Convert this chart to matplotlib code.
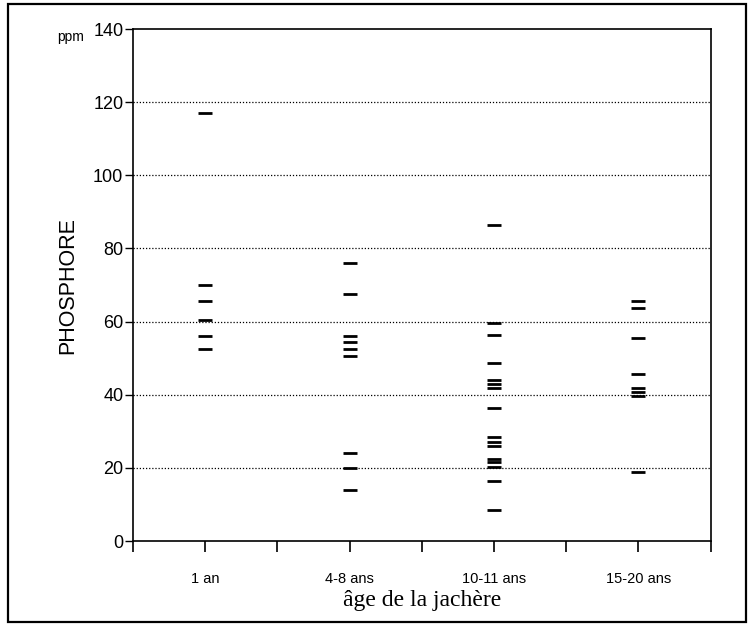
import numpy as np
import matplotlib.pyplot as plt
from matplotlib.patches import Rectangle

# categories and phosphore values (ppm)
categories = ["1 an", "4-8 ans", "10-11 ans", "15-20 ans"]
an1 = [117, 70, 65.5, 60.5, 56, 52.5]
ans4_8 = [76, 67.5, 56, 54.5, 52.5, 50.5, 24, 20, 14]
ans10_11 = [86.5, 59.7, 56.2, 48.8, 44.0, 42.9, 41.8, 36.5, 28.4, 27.2, 26.0,
            22.3, 21.5, 20.3, 16.4, 8.5]
ans15_20 = [65.6, 63.7, 55.6, 45.7, 41.9, 40.7, 39.6, 18.9]
groups = [an1, ans4_8, ans10_11, ans15_20]

fig = plt.figure(figsize=(7.49, 6.24), dpi=100)
ax = fig.add_axes([0.1776, 0.133, 0.771, 0.8205])

#outer frame round the whole figure
fig.patches.append(Rectangle((0.011, 0.004), 0.985, 0.99, transform=fig.transFigure,
                             fill=False, edgecolor="black", linewidth=1.6))

pos = np.arange(len(categories)) + 0.5
for p, vals in zip(pos, groups):
    ax.plot([p] * len(vals), vals, linestyle="none", marker="_",
            markersize=10, markeredgewidth=2, color="black")

ax.set_xlim(0, 4)
ax.set_ylim(0, 140)
ax.set_yticks(np.arange(0, 141, 20))
ax.set_xticks(np.arange(0, 4.01, 0.5))
ax.set_xticklabels(["", categories[0], "", categories[1], "", categories[2], "",
                    categories[3], ""])
ax.tick_params(axis="y", direction="out", length=6, width=1, labelsize=13, pad=1)
ax.tick_params(axis="x", direction="out", length=8, width=1.2, labelsize=10.5, pad=14)

for v in range(20, 140, 20):
    ax.axhline(v, color="black", linestyle=(0, (1, 1.5)), linewidth=0.9, zorder=0)

for s in ax.spines.values():
    s.set_linewidth(1.2)

font = ["Liberation Sans", "DejaVu Sans"]
for t in ax.get_xticklabels() + ax.get_yticklabels():
    t.set_fontfamily(font)

fig.text(0.09, 0.543, "PHOSPHORE", fontsize=15.5, family=font, rotation=90,
         ha="center", va="center")
ax.set_xlabel("âge de la jachère", fontsize=17, family=["Liberation Serif", "DejaVu Serif"],
              labelpad=3)
fig.text(0.094, 0.941, "ppm", fontsize=10, family=font, ha="center", va="center")

fig.savefig("out.png", dpi=100)
